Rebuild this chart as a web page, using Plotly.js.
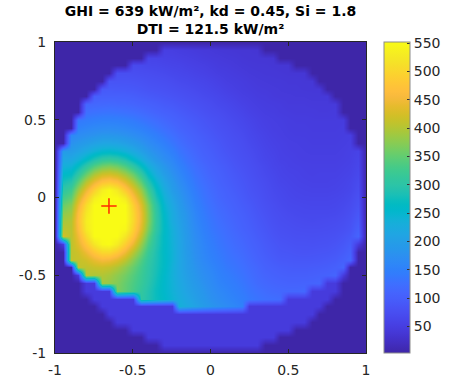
<!DOCTYPE html>
<html><head><meta charset="utf-8">
<script src="https://cdn.plot.ly/plotly-3.0.1.min.js"></script>
<style>html,body{margin:0;padding:0;background:#fff}#chart{width:460px;height:378px}</style>
</head><body><div id="chart"></div>
<script>
// grid coordinates (cell centres) of the sky map
const xCoords = [-1,-0.95,-0.9,-0.85,-0.8,-0.75,-0.7,-0.65,-0.6,-0.55,-0.5,-0.45,-0.4,-0.35,-0.3,-0.25,-0.2,-0.15,-0.1,-0.05,0,0.05,0.1,0.15,0.2,0.25,0.3,0.35,0.4,0.45,0.5,0.55,0.6,0.65,0.7,0.75,0.8,0.85,0.9,0.95,1];
const yCoords = [-1,-0.95,-0.9,-0.85,-0.8,-0.75,-0.7,-0.65,-0.6,-0.55,-0.5,-0.45,-0.4,-0.35,-0.3,-0.25,-0.2,-0.15,-0.1,-0.05,0,0.05,0.1,0.15,0.2,0.25,0.3,0.35,0.4,0.45,0.5,0.55,0.6,0.65,0.7,0.75,0.8,0.85,0.9,0.95,1];
// radiance values, row = y (bottom to top), column = x
const radiance = [
[3,3,3,3,3,3,3,3,3,3,3,3,3,3,3,3,3,3,3,3,3,3,3,3,3,3,3,3,3,3,3,3,3,3,3,3,3,3,3,3,3],
[3,3,3,3,3,3,3,3,3,3,3,3,3,3,45,45,45,45,45,45,45,45,45,45,45,45,45,3,3,3,3,3,3,3,3,3,3,3,3,3,3],
[3,3,3,3,3,3,3,3,3,3,3,3,45,45,45,45,45,45,45,45,45,45,45,45,45,45,45,45,45,3,3,3,3,3,3,3,3,3,3,3,3],
[3,3,3,3,3,3,3,3,3,3,45,45,45,45,45,45,45,45,45,45,45,45,45,45,45,45,45,45,45,45,45,3,3,3,3,3,3,3,3,3,3],
[3,3,3,3,3,3,3,3,45,45,45,45,45,45,45,45,45,45,45,45,45,45,45,45,45,45,45,45,45,45,45,45,45,3,3,3,3,3,3,3,3],
[3,3,3,3,3,3,3,45,45,45,45,45,45,45,45,45,45,45,45,45,45,45,45,45,45,45,45,45,45,45,45,45,45,45,3,3,3,3,3,3,3],
[3,3,3,3,3,3,45,45,45,45,45,45,45,45,45,45,235,221,208,195,184,176,168,160,151,45,45,45,45,45,45,45,45,45,45,3,3,3,3,3,3],
[3,3,3,3,3,45,45,45,45,45,45,305,289,272,258,243,229,215,201,189,177,169,161,154,146,138,132,126,124,121,45,45,45,45,45,45,3,3,3,3,3],
[3,3,3,3,45,45,45,45,365,349,331,310,291,271,255,239,224,208,196,184,172,163,156,148,141,133,126,120,116,114,113,113,115,45,45,45,45,3,3,3,3],
[3,3,3,3,45,45,391,381,369,352,335,317,297,275,255,238,220,204,190,178,167,157,150,143,136,128,119,114,110,108,106,106,107,108,111,45,45,3,3,3,3],
[3,3,3,45,403,396,399,392,377,361,341,321,301,279,257,236,216,200,185,173,163,153,145,138,131,123,115,109,105,102,100,100,100,101,103,105,110,45,3,3,3],
[3,3,3,410,408,414,417,412,398,377,353,327,303,282,261,237,215,196,181,168,158,149,139,133,126,119,112,104,100,97,95,94,94,95,96,98,102,110,3,3,3],
[3,3,410,412,421,440,453,449,433,406,372,338,308,284,262,240,215,195,177,163,153,144,135,129,122,115,107,100,95,91,90,89,89,89,90,92,95,102,112,3,3],
[3,3,407,419,447,479,502,503,482,448,403,359,318,286,260,240,214,192,174,160,149,140,132,124,118,111,103,96,91,87,86,84,83,84,85,86,89,95,104,3,3],
[3,45,407,435,479,521,547,551,529,489,442,384,333,292,261,238,214,190,172,157,145,136,128,120,114,107,100,93,88,84,82,80,80,79,80,81,84,89,97,45,3],
[3,423,404,449,506,552,552,552,552,522,475,411,349,296,261,236,212,189,169,154,141,133,124,117,110,104,96,90,84,80,78,76,76,75,76,77,79,84,90,109,3],
[3,407,404,462,527,552,552,552,552,546,494,432,365,305,262,234,209,186,166,150,137,129,121,113,106,100,93,87,81,77,75,73,72,72,72,73,75,78,84,101,3],
[3,393,401,469,532,552,552,552,552,552,504,442,375,307,261,226,205,183,162,146,134,125,117,110,103,97,90,84,78,74,72,70,69,68,69,70,71,74,80,94,3],
[3,376,389,463,524,552,552,552,552,552,502,442,374,306,256,225,200,180,158,142,130,121,114,106,100,94,87,81,75,72,69,67,66,66,66,66,67,70,75,88,3],
[3,354,374,444,509,552,552,552,552,552,492,432,367,300,249,218,194,173,153,138,126,117,110,103,96,91,84,78,73,69,66,65,64,63,63,63,64,67,71,82,3],
[3,331,349,420,480,534,552,552,552,529,468,412,349,285,240,209,188,168,148,133,122,113,106,100,93,87,82,75,70,67,64,62,61,61,61,61,62,64,68,78,3],
[3,306,325,386,444,493,535,549,527,484,436,385,326,268,228,197,180,161,142,129,118,110,103,96,90,84,79,73,68,65,62,60,59,58,58,58,59,61,64,73,3],
[3,281,295,346,403,444,474,482,469,436,396,348,295,249,214,190,171,153,136,124,114,106,99,93,87,82,76,71,66,62,60,58,57,56,56,56,57,59,62,70,3],
[3,258,265,305,353,394,418,423,412,388,355,310,263,225,199,179,162,145,130,119,109,103,96,90,84,79,73,68,64,60,58,57,55,54,55,55,55,57,59,66,3],
[3,234,240,267,305,339,361,368,358,336,305,268,234,207,186,168,153,137,124,114,105,99,93,86,81,76,71,66,61,59,56,55,54,53,53,53,53,55,57,63,3],
[3,215,216,234,259,286,305,310,303,285,258,232,208,188,172,159,143,129,118,108,101,95,89,83,78,74,68,63,60,56,55,53,52,52,52,52,52,53,55,61,3],
[3,195,196,207,223,239,251,254,248,237,220,203,187,173,160,147,133,122,112,103,97,91,85,80,75,71,66,61,58,55,53,52,51,50,50,50,50,52,54,58,3],
[3,3,178,187,196,206,213,214,211,203,193,182,170,159,148,135,124,114,106,99,93,88,82,77,73,68,63,59,56,54,52,51,50,49,49,49,49,50,52,3,3],
[3,3,161,169,175,180,186,186,184,179,172,164,156,146,135,125,116,108,101,95,89,84,79,74,70,65,61,57,54,52,50,49,49,48,48,48,48,49,50,3,3],
[3,3,3,153,159,164,166,167,165,161,156,150,142,133,124,116,108,102,96,90,85,80,76,71,67,63,58,55,52,51,49,48,48,47,47,47,47,48,3,3,3],
[3,3,3,137,143,147,150,150,149,146,141,134,128,121,114,107,102,96,91,86,81,77,72,68,64,60,56,53,51,50,48,47,47,46,46,46,46,47,3,3,3],
[3,3,3,3,125,129,131,132,130,127,124,119,114,108,103,99,94,89,85,80,75,72,68,64,60,56,53,50,49,47,46,45,45,45,44,44,45,3,3,3,3],
[3,3,3,3,111,114,115,116,114,113,110,106,103,99,94,91,87,83,79,75,71,67,64,60,56,53,50,48,47,46,44,44,44,43,43,43,43,3,3,3,3],
[3,3,3,3,3,101,102,102,102,101,99,95,92,89,86,83,80,76,73,69,66,63,59,56,52,50,47,46,44,43,43,42,42,41,41,41,3,3,3,3,3],
[3,3,3,3,3,3,92,93,92,91,90,87,84,82,80,77,74,71,68,65,62,59,55,52,49,47,45,44,43,42,41,41,40,40,40,3,3,3,3,3,3],
[3,3,3,3,3,3,3,84,84,84,83,81,78,76,74,71,68,66,63,61,58,55,51,49,47,45,43,42,41,41,40,40,39,39,3,3,3,3,3,3,3],
[3,3,3,3,3,3,3,3,76,76,75,73,72,70,68,65,63,61,58,56,53,50,48,46,44,42,41,40,40,39,38,38,38,3,3,3,3,3,3,3,3],
[3,3,3,3,3,3,3,3,3,3,68,67,65,64,62,60,59,56,54,52,49,46,45,43,41,40,39,39,38,37,37,3,3,3,3,3,3,3,3,3,3],
[3,3,3,3,3,3,3,3,3,3,3,3,60,59,57,56,54,52,50,47,45,44,42,41,39,38,38,37,36,3,3,3,3,3,3,3,3,3,3,3,3],
[3,3,3,3,3,3,3,3,3,3,3,3,3,3,52,51,49,47,45,43,42,40,39,38,37,37,36,3,3,3,3,3,3,3,3,3,3,3,3,3,3],
[3,3,3,3,3,3,3,3,3,3,3,3,3,3,3,3,3,3,3,3,3,3,3,3,3,3,3,3,3,3,3,3,3,3,3,3,3,3,3,3,3]
];
const colorMin = 3;
const colorMax = 552;
// sun position marker
const sunX = [-0.653];
const sunY = [-0.055];
// ticks and texts
const axisTickVals = [-1, -0.5, 0, 0.5, 1];
const axisTickText = ['-1', '-0.5', '0', '0.5', '1'];
const colorbarTicks = [50, 100, 150, 200, 250, 300, 350, 400, 450, 500, 550];
const titleLines = ['GHI = 639 kW/m², kd = 0.45, Si = 1.8', 'DTI = 121.5 kW/m²'];

// parula colormap (style)
const parula = ['#3e26a8','#402ab4','#422ec0','#4332cb','#4537d5','#463cde','#4741e5','#4747eb','#484df0','#4852f4','#4758f8','#465efb','#4563fd','#4269fe','#3e6fff','#3875fe','#327cfc','#2f81fa','#2e87f7','#2d8cf3','#2b91ef','#2797eb','#259be8','#23a0e5','#20a5e3','#1ca9df','#18addb','#12b1d6','#08b5d0','#01b8ca','#02bac3','#0bbdbd','#19bfb6','#24c1ae','#2cc4a7','#31c69f','#37c897','#3fca8e','#4acb84','#57cc7a','#64cd6f','#72cd64','#81cc59','#8fcb4e','#9dc943','#abc739','#b9c431','#c5c22a','#d1bf27','#dcbd29','#e6bb2d','#f0ba36','#f8ba3d','#febe3c','#fec338','#fec934','#fccf30','#fad62d','#f7dc2a','#f5e327','#f5e924','#f6ef20','#f7f51b','#f9fb15'];
const colorscale = parula.map((c, k) => [k / (parula.length - 1), c]);

const FONT = 'DejaVu Sans, Arial, sans-serif';
const axisColor = '#262626';

const heat = {
  type: 'heatmap',
  x: xCoords,
  y: yCoords,
  z: radiance,
  zmin: colorMin,
  zmax: colorMax,
  zsmooth: 'best',
  colorscale: colorscale,
  hoverinfo: 'skip',
  colorbar: {
    thickness: 26, thicknessmode: 'pixels',
    len: 1, lenmode: 'fraction',
    x: 1.058, xanchor: 'left', xpad: 0, ypad: 0,
    y: 0.5, yanchor: 'middle',
    outlinewidth: 1, outlinecolor: '#8c8c8c',
    tickmode: 'array', tickvals: colorbarTicks,
    ticks: 'inside', ticklen: 3, tickcolor: '#333333', tickwidth: 1,
    tickfont: {family: FONT, size: 14, color: axisColor}
  }
};

const sun = {
  type: 'scatter', mode: 'markers',
  x: sunX, y: sunY,
  marker: {symbol: 'cross-thin', size: 11, color: '#ff0000', line: {color: '#ff2a00', width: 1.5}},
  hoverinfo: 'skip', showlegend: false
};

function axis() {
  return {
    range: [-1, 1], tickmode: 'array', tickvals: axisTickVals, ticktext: axisTickText,
    ticks: 'inside', ticklen: 4, tickwidth: 1, tickcolor: axisColor,
    showline: true, linecolor: axisColor, linewidth: 1, mirror: 'ticks',
    zeroline: false, showgrid: false, fixedrange: true,
    tickfont: {family: FONT, size: 14, color: axisColor}
  };
}

const layout = {
  width: 460, height: 378,
  margin: {l: 55, r: 94, t: 42, b: 25, pad: 0},
  paper_bgcolor: '#ffffff', plot_bgcolor: '#ffffff',
  showlegend: false,
  title: {
    text: titleLines.join('<br>'),
    font: {family: FONT, size: 14, color: '#000000', weight: 'bold'},
    x: 0.5, xref: 'paper', xanchor: 'center',
    y: 0.958, yref: 'container', yanchor: 'top'
  },
  xaxis: Object.assign(axis(), {ticklabelstandoff: 4}),
  yaxis: Object.assign(axis(), {ticklabelstandoff: 5})
};

Plotly.newPlot('chart', [heat, sun], layout, {displayModeBar: false, staticPlot: true});
</script>
</body></html>
